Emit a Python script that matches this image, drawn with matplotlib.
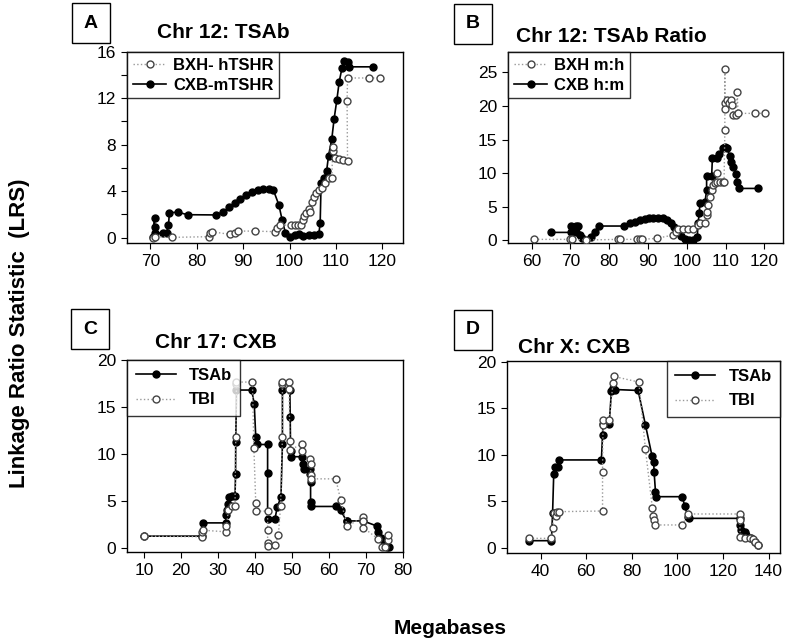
import matplotlib
matplotlib.use('Agg')
import matplotlib.pyplot as plt

plt.rcParams['font.family'] = ['Liberation Sans', 'DejaVu Sans']

# panel A: Chr 12 TSAb
a_cxb_x = [70.6, 70.9, 70.9, 71.0, 72.7, 73.5, 73.9, 74.1, 76.0, 78.0, 84.2, 85.7, 87.0, 88.2, 89.4,
           90.7, 92.0, 93.2, 94.2, 95.5, 96.5, 97.7, 98.4, 99.1, 100.0, 101.1, 102.1, 102.8, 104.1,
           105.3, 106.3, 106.6, 106.8, 107.5, 108.0, 108.4, 109.1, 109.6, 110.2, 110.7, 111.3,
           111.8, 112.5, 112.9, 117.9]
a_cxb_y = [0.1, 1.7, 0.95, 0.38, 0.43, 0.43, 1.1, 2.16, 2.19, 1.98, 1.96, 2.24, 2.62, 2.96, 3.31,
           3.66, 3.91, 4.11, 4.17, 4.17, 4.11, 2.82, 1.53, 0.43, 0.03, 0.23, 0.29, 0.15, 0.23,
           0.23, 0.29, 1.24, 4.74, 5.12, 5.78, 7.04, 8.48, 10.2, 11.87, 13.4, 14.6,
           15.17, 15.1, 14.7, 14.7]
a_bxh_x = [70.6, 71.0, 74.6, 82.7, 82.8, 83.2, 87.1, 88.2, 88.8, 92.5, 96.8, 97.3, 97.9, 100.3,
           101.1, 101.8, 102.5, 102.8, 103.2, 103.6, 104.1, 104.4, 104.8, 105.2, 105.7, 106.3,
           107.1, 107.7, 108.4, 109.1, 109.3, 109.4, 109.8, 110.6, 111.6, 112.5, 112.4, 112.5,
           117.1, 119.5]
a_bxh_y = [0.0, 0.09, 0.03, 0.09, 0.43, 0.52, 0.29, 0.43, 0.57, 0.57, 0.52, 0.81, 1.09, 1.09,
           1.09, 1.09, 1.09, 1.53, 1.9, 2.1, 2.45, 2.24, 3.1, 3.53, 3.83, 4.11,
           4.25, 4.69, 5.12, 5.12, 7.47, 7.79, 6.84, 6.78, 6.7, 6.64, 11.72, 13.74,
           13.74, 13.74]

# panel B: Chr 12 TSAb ratio
b_cxb_x = [64.9, 70.05, 70.05, 71.4, 71.4, 72.0, 72.45, 73.1, 75.2, 76.3, 77.4, 83.8, 85.3, 86.6,
           87.9, 89.2, 90.3, 91.3, 92.6, 93.8, 94.8, 95.8, 96.7, 97.5, 98.4, 99.5, 100.6, 101.6,
           102.7, 102.9, 103.2, 103.4, 104.7, 105.1, 105.1, 106.4, 106.6, 107.7, 108.4, 109.4,
           109.8, 110.4, 111.1, 111.5, 112.0, 112.65, 113.0, 113.35, 118.4]
b_cxb_y = [1.14, 1.14, 2.09, 2.09, 1.24, 2.09, 0.75, 0.25, 0.5, 1.24, 2.09, 2.09, 2.48, 2.73,
           2.98, 3.08, 3.23, 3.33, 3.33, 3.23, 2.98, 2.58, 1.99, 1.24, 0.65, 0.15, 0.0, 0.0,
           0.5, 2.48, 3.97, 5.56, 5.71, 7.45, 9.54, 9.54, 12.3, 12.2, 12.9, 13.8,
           13.9, 13.7, 12.5, 11.7, 10.9, 9.9, 8.7, 7.7, 7.7]
b_bxh_x = [60.7, 69.9, 70.3, 74.0, 82.3, 82.9, 87.1, 87.9, 88.5, 92.2, 96.5, 97.2, 97.8, 99.1,
           100.4, 101.6, 102.9, 103.4, 104.7, 105.1, 105.1, 105.5, 106.0, 106.4, 106.8, 107.2,
           107.7, 107.8, 108.5, 109.2, 109.6, 109.8, 109.8, 109.8, 109.8, 110.4, 110.9, 111.5,
           111.7, 112.0, 112.7, 113.0, 113.2, 117.6, 120.1]
b_bxh_y = [0.1, 0.1, 0.1, 0.0, 0.1, 0.1, 0.1, 0.1, 0.1, 0.25, 0.75, 1.24, 1.64, 1.59,
           1.59, 1.59, 2.24, 2.48, 2.48, 3.73, 4.22, 5.2, 6.46, 7.45, 8.2, 8.54,
           9.94, 8.7, 8.7, 8.7, 8.7, 16.4, 25.5, 20.4, 19.6, 20.9, 20.4, 20.9,
           20.1, 18.6, 18.6, 22.1, 18.9, 18.9, 18.9]

# panel C: Chr 17 CXB
c_tsab_x = [10.0, 25.8, 26.0, 32.1, 32.3, 32.5, 32.8, 33.0, 33.7, 34.6, 34.75, 34.8, 35.0, 39.1,
            39.8, 40.2, 40.6, 43.4, 43.4, 43.4, 45.4, 46.0, 47.0, 47.4, 47.4, 49.4, 49.5, 49.6,
            49.6, 52.8, 53.0, 53.2, 54.8, 54.8, 55.0, 55.0, 55.0, 61.8, 63.1, 64.7, 64.9, 69.2,
            72.8, 73.3, 73.9, 74.6, 75.1, 75.5, 76.2]
c_tsab_y = [1.24, 1.24, 2.65, 2.65, 3.46, 4.06, 4.62, 5.4, 5.5, 5.5, 7.9, 11.3, 16.8, 16.8,
            15.3, 11.8, 11.0, 11.0, 7.94, 3.1, 3.1, 4.34, 5.4, 11.05, 16.8, 16.8, 13.9, 10.3,
            9.7, 9.7, 8.9, 8.4, 8.4, 7.9, 7.0, 4.87, 4.4, 4.4, 4.0, 2.86, 2.86, 2.86,
            2.33, 1.69, 0.99, 0.81, 0.46, 0.1, 0.04]
c_tbi_x = [10.0, 25.6, 25.8, 26.0, 32.1, 32.3, 32.8, 33.7, 34.6, 34.8, 35.0, 35.0, 39.3, 39.7,
           40.2, 40.4, 43.4, 43.4, 43.4, 43.4, 45.4, 46.3, 46.9, 47.4, 47.4, 47.4, 49.2, 49.2,
           49.4, 49.4, 52.6, 52.8, 54.8, 55.0, 55.0, 55.0, 61.8, 63.1, 64.9, 69.2, 69.2, 69.2,
           73.3, 74.2, 75.1, 75.8, 75.97]
c_tbi_y = [1.24, 1.17, 1.7, 1.87, 1.7, 2.3, 4.0, 4.45, 4.45, 11.75, 17.4, 17.65, 17.65, 10.6,
           4.77, 3.9, 3.9, 1.94, 0.46, 0.18, 0.28, 1.34, 4.45, 11.8, 17.4, 17.65, 17.65, 16.9,
           11.4, 10.4, 11.05, 10.3, 9.46, 8.9, 7.7, 7.34, 7.34, 5.1, 2.3, 3.28, 2.86, 2.15,
           0.92, 0.1, 0.1, 0.88, 1.41]

# panel D: Chr X CXB
d_tsab_x = [35.0, 44.8, 45.3, 45.8, 46.3, 47.7, 48.2, 66.7, 67.2, 67.4, 70.1, 71.1, 71.8, 72.6,
            82.8, 86.0, 88.9, 89.6, 89.8, 90.4, 90.5, 102.2, 103.2, 104.7, 104.96, 127.3, 127.6,
            128.0, 129.5, 130.2, 132.4, 133.9, 135.3]
d_tsab_y = [0.75, 0.75, 3.76, 7.92, 8.64, 8.64, 9.43, 9.43, 12.1, 13.3, 13.3, 16.8, 17.2, 17.0,
            16.9, 13.2, 9.86, 9.25, 8.17, 6.02, 5.48, 5.48, 4.48, 3.33, 3.15, 3.15, 2.44,
            1.9, 1.72, 1.36, 1.0, 0.65, 0.29]
d_tbi_x = [35.0, 44.8, 45.3, 45.8, 46.7, 47.3, 48.2, 67.2, 67.2, 67.4, 67.4, 70.1, 71.8, 72.3,
           83.1, 86.0, 89.05, 89.3, 89.6, 90.1, 102.2, 104.7, 127.3, 127.3, 127.6, 129.5,
           131.7, 133.1, 133.9, 135.3]
d_tbi_y = [1.0, 1.0, 2.08, 3.7, 3.4, 3.8, 3.87, 3.94, 8.17, 13.2, 13.7, 13.7, 17.7, 18.4,
           17.8, 10.6, 4.23, 3.4, 2.97, 2.44, 2.44, 3.62, 3.62, 2.97, 1.18, 1.0,
           1.0, 0.9, 0.65, 0.29]


def solid(ax, x, y, label):
    ax.plot(x, y, color='black', lw=1.2, marker='o', ms=5, mfc='black', mec='black',
            label=label, zorder=3)


def open_(ax, x, y, label):
    ax.plot(x, y, color='#999999', lw=1.0, ls=':', marker='o', ms=5, mfc='white',
            mec='#444444', mew=1.0, label=label, zorder=4)


def style(ax, xlim, ylim, xticks, yticks, ylabels):
    ax.set_xlim(xlim)
    ax.set_ylim(ylim)
    ax.set_xticks(xticks)
    ax.set_yticks(yticks)
    ax.set_yticklabels(ylabels)
    ax.tick_params(labelsize=12.5, length=4, width=0.8, pad=4)
    for s in ax.spines.values():
        s.set_linewidth(1.0)


def panel_label(x, y, letter, title, tx, ty):
    fig.text(x, y, letter, fontsize=14, fontweight='bold', ha='center', va='center',
             bbox=dict(boxstyle='square,pad=0.6', fc='white', ec='black', lw=1.0))
    fig.text(tx, ty, title, fontsize=15, fontweight='bold', ha='left', va='center')


fig = plt.figure(figsize=(8, 6.44), dpi=100)
leg_top = dict(frameon=True, fancybox=False, edgecolor='black', borderaxespad=0,
               prop={'weight': 'bold', 'size': 12}, handlelength=2.0, borderpad=0.35,
               labelspacing=0.3, handletextpad=0.4)
leg_bot = dict(frameon=True, fancybox=False, edgecolor='black', borderaxespad=0,
               prop={'weight': 'bold', 'size': 12}, handlelength=2.4, borderpad=0.5,
               labelspacing=0.55, handletextpad=0.8)

axA = fig.add_axes([0.159, 0.6231, 0.345, 0.2966])
open_(axA, a_bxh_x, a_bxh_y, 'BXH- hTSHR')
solid(axA, a_cxb_x, a_cxb_y, 'CXB-mTSHR')
style(axA, (65, 124.5), (-0.43, 16), range(70, 121, 10), range(0, 17, 2),
      ['0', '', '4', '', '8', '', '12', '', '16'])
lg = axA.legend(loc='upper left', **leg_top)
lg.get_frame().set_linewidth(1.0)

axB = fig.add_axes([0.6354, 0.6231, 0.3434, 0.2966])
open_(axB, b_bxh_x, b_bxh_y, 'BXH m:h')
solid(axB, b_cxb_x, b_cxb_y, 'CXB h:m')
style(axB, (54, 124.8), (-0.4, 28.1), range(60, 121, 10), range(0, 26, 5),
      [str(v) for v in range(0, 26, 5)])
lg = axB.legend(loc='upper left', **leg_top)
lg.get_frame().set_linewidth(1.0)

axC = fig.add_axes([0.159, 0.1433, 0.345, 0.2977])
solid(axC, c_tsab_x, c_tsab_y, 'TSAb')
open_(axC, c_tbi_x, c_tbi_y, 'TBI')
style(axC, (5.5, 80), (-0.42, 20), range(10, 81, 10), range(0, 21, 5),
      [str(v) for v in range(0, 21, 5)])
lg = axC.legend(loc='upper left', **leg_bot)
lg.get_frame().set_linewidth(1.0)

axD = fig.add_axes([0.634, 0.1418, 0.341, 0.2977])
solid(axD, d_tsab_x, d_tsab_y, 'TSAb')
open_(axD, d_tbi_x, d_tbi_y, 'TBI')
style(axD, (25.4, 145), (-0.54, 20.07), range(40, 141, 20), range(0, 21, 5),
      [str(v) for v in range(0, 21, 5)])
lg = axD.legend(loc='upper right', **leg_bot)
lg.get_frame().set_linewidth(1.0)

panel_label(91 / 800, 1 - 23 / 644, 'A', 'Chr 12: TSAb', 157 / 800, 1 - 33 / 644)
panel_label(473 / 800, 1 - 24 / 644, 'B', 'Chr 12: TSAb Ratio', 516 / 800, 1 - 36 / 644)
panel_label(90 / 800, 1 - 329 / 644, 'C', 'Chr 17: CXB', 155 / 800, 1 - 343 / 644)
panel_label(473 / 800, 1 - 330 / 644, 'D', 'Chr X: CXB', 518 / 800, 1 - 347 / 644)

fig.text(20 / 800, 1 - 333 / 644, 'Linkage Ratio Statistic  (LRS)', rotation=90,
         fontsize=16, fontweight='bold', ha='center', va='center')
fig.text(450 / 800, 1 - 628 / 644, 'Megabases', fontsize=15, fontweight='bold',
         ha='center', va='center')

fig.savefig('out.png', dpi=100)
